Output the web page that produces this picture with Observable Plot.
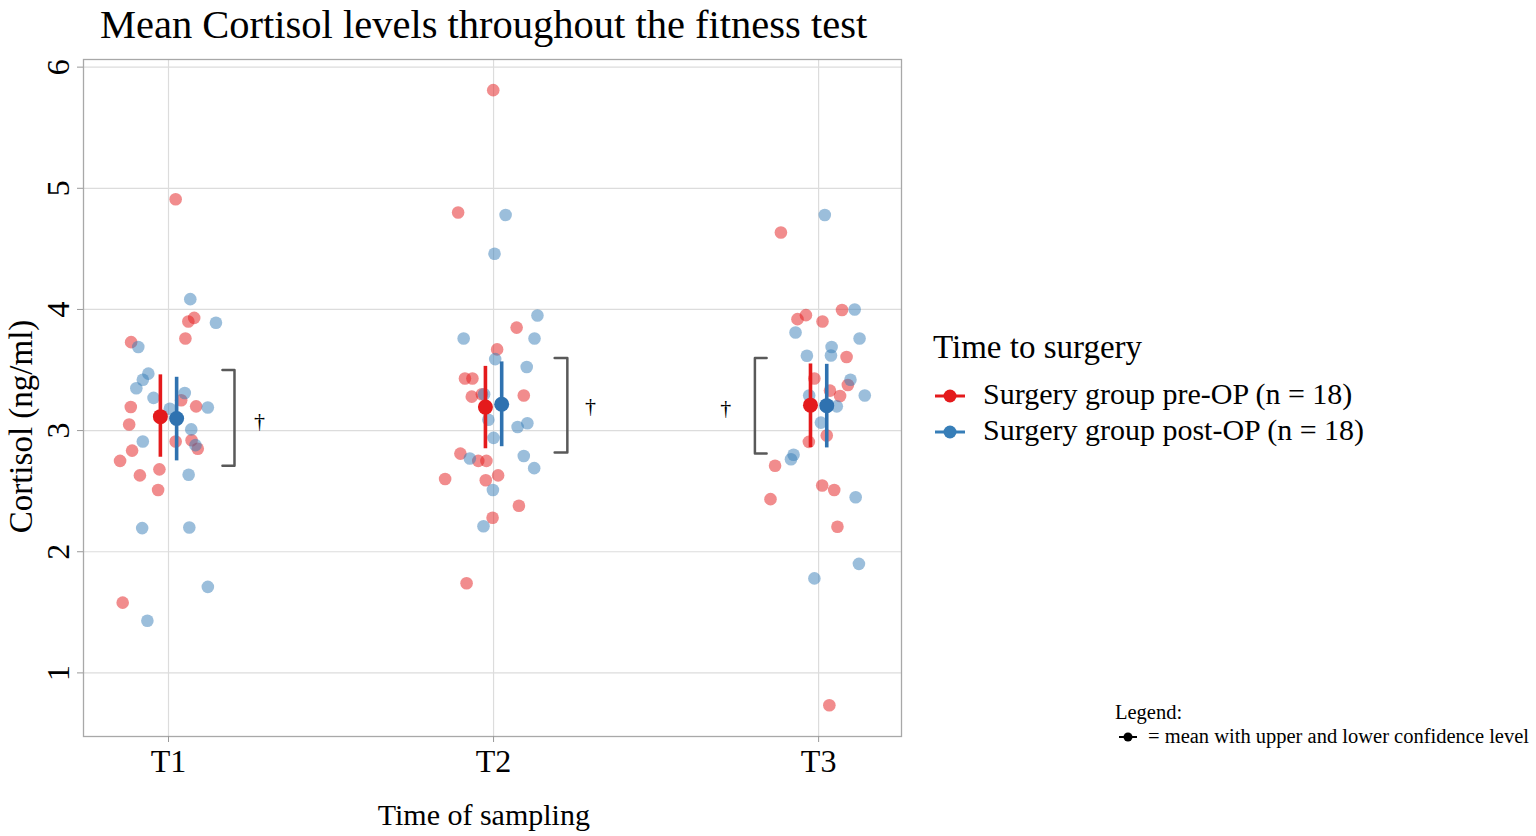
<!DOCTYPE html>
<html><head><meta charset="utf-8">
<script src="https://cdn.jsdelivr.net/npm/d3@7"></script>
<script src="https://cdn.jsdelivr.net/npm/@observablehq/plot@0.6"></script>
<style>
html,body{margin:0;padding:0;background:#fff;overflow:hidden}
#page{position:relative;width:1536px;height:836px;font-family:"Liberation Serif","Times New Roman",serif;color:#000;overflow:hidden}
.abs{position:absolute;white-space:nowrap}
#chart{position:absolute;left:0;top:0}
</style></head><body><div id="page"><div id="chart"></div></div>
<script>
// ---------- data ----------
const times = ["T1", "T2", "T3"];
const groupLabels = ["Surgery group pre-OP (n = 18)", "Surgery group post-OP (n = 18)"];
const yTicks = [1, 2, 3, 4, 5, 6];

// individual cortisol values (ng/ml) and their horizontal jitter (fraction of category spacing)
const preT1 = [4.91, 3.93, 3.90, 3.76, 3.73, 3.25, 3.195, 3.20, 3.05, 2.91, 2.92, 2.85, 2.835, 2.75, 2.68, 2.63, 2.51, 1.58];
const preT1Jit = [0.022, 0.079, 0.061, 0.052, -0.115, 0.039, -0.116, 0.085, -0.121, 0.022, 0.071, 0.090, -0.112, -0.149, -0.028, -0.088, -0.032, -0.141];
const postT1 = [4.085, 3.89, 3.69, 3.47, 3.42, 3.35, 3.31, 3.27, 3.19, 3.18, 3.01, 2.91, 2.88, 2.635, 2.195, 2.20, 1.71, 1.43];
const postT1Jit = [0.067, 0.146, -0.093, -0.062, -0.079, -0.099, 0.050, -0.046, 0.121, 0.004, 0.070, -0.079, 0.083, 0.062, -0.081, 0.064, 0.121, -0.065];

const preT2 = [5.81, 4.80, 3.85, 3.67, 3.43, 3.43, 3.30, 3.28, 3.29, 2.81, 2.75, 2.75, 2.60, 2.63, 2.59, 2.38, 2.28, 1.74];
const preT2Jit = [-0.001, -0.109, 0.071, 0.011, -0.088, -0.065, -0.036, -0.067, 0.093, -0.102, -0.047, -0.022, -0.149, 0.014, -0.024, 0.078, -0.003, -0.083];
const postT2 = [4.78, 4.46, 3.95, 3.76, 3.76, 3.59, 3.525, 3.30, 3.09, 3.06, 3.03, 2.94, 2.77, 2.79, 2.69, 2.51, 2.21];
const postT2Jit = [0.037, 0.003, 0.135, -0.092, 0.126, 0.005, 0.102, -0.029, -0.016, 0.104, 0.074, 0.000, -0.073, 0.093, 0.125, -0.002, -0.031];

const preT3 = [4.635, 3.995, 3.953, 3.92, 3.90, 3.607, 3.43, 3.376, 3.33, 3.286, 2.907, 2.96, 2.71, 2.547, 2.51, 2.434, 2.206, 0.733];
const preT3Jit = [-0.116, 0.072, -0.039, -0.065, 0.012, 0.086, -0.013, 0.090, 0.035, 0.066, -0.030, 0.025, -0.134, 0.011, 0.048, -0.148, 0.058, 0.033];
const postT3 = [4.78, 4.00, 3.81, 3.76, 3.69, 3.62, 3.618, 3.42, 3.29, 3.29, 3.20, 3.066, 2.80, 2.764, 2.45, 1.90, 1.78];
const postT3Jit = [0.019, 0.111, -0.071, 0.126, 0.040, 0.038, -0.036, 0.098, 0.142, -0.029, 0.056, 0.007, -0.077, -0.085, 0.114, 0.124, -0.013];

// means with lower / upper confidence levels
const preMean = [3.115, 3.194, 3.21];
const preLower = [2.78, 2.85, 2.86];
const preUpper = [3.46, 3.53, 3.55];
const postMean = [3.10, 3.217, 3.206];
const postLower = [2.75, 2.867, 2.857];
const postUpper = [3.44, 3.567, 3.547];

// significance brackets (†)
const bracketLow = [2.71, 2.82, 2.81];
const bracketHigh = [3.50, 3.60, 3.60];
const bracketInner = [0.166, 0.188, -0.160];
const bracketOuter = [0.203, 0.227, -0.196];
const daggerOffset = [0.28, 0.298, -0.286];
const daggerY = [3.08, 3.20, 3.19];

// ---------- build tables ----------
const pre = [preT1, preT2, preT3], preJ = [preT1Jit, preT2Jit, preT3Jit];
const post = [postT1, postT2, postT3], postJ = [postT1Jit, postT2Jit, postT3Jit];
const prePts = [], postPts = [];
pre.forEach((vals, t) => vals.forEach((v, i) => prePts.push({x: t + 1 + preJ[t][i], y: v})));
post.forEach((vals, t) => vals.forEach((v, i) => postPts.push({x: t + 1 + postJ[t][i], y: v})));
const dodge = 0.025;
const preStats = times.map((t, i) => ({x: i + 1 - dodge, m: preMean[i], lo: preLower[i], hi: preUpper[i]}));
const postStats = times.map((t, i) => ({x: i + 1 + dodge, m: postMean[i], lo: postLower[i], hi: postUpper[i]}));
const brackets = [];
times.forEach((t, i) => {
  const c = i + 1;
  brackets.push({z: i, x: c + bracketInner[i], y: bracketHigh[i]});
  brackets.push({z: i, x: c + bracketOuter[i], y: bracketHigh[i]});
  brackets.push({z: i, x: c + bracketOuter[i], y: bracketLow[i]});
  brackets.push({z: i, x: c + bracketInner[i], y: bracketLow[i]});
});
const daggers = times.map((t, i) => ({x: i + 1 + daggerOffset[i], y: daggerY[i]}));

const RED = "#e41a1c", BLUE = "#377eb8", BLUE_MEAN = "#2f72b0";

const chart = Plot.plot({
  width: 910, height: 836,
  marginLeft: 83, marginRight: 9, marginTop: 59, marginBottom: 100,
  x: {type: "linear", domain: [0.7385, 3.255]},
  y: {domain: [0.475, 6.063]},
  style: {fontFamily: "Liberation Serif, Times New Roman, serif", background: "white", color: "black", overflow: "visible"},
  marks: [
    Plot.gridY(yTicks, {stroke: "#dcdcdc", strokeOpacity: 1, strokeWidth: 1.2}),
    Plot.gridX([1, 2, 3], {stroke: "#dcdcdc", strokeOpacity: 1, strokeWidth: 1.2}),
    Plot.frame({stroke: "#a8a8a8", strokeWidth: 1.3}),
    Plot.axisY(yTicks, {tickSize: 6, tickPadding: 8.7, tickRotate: -90, fontSize: 32, tickFormat: d => String(d), stroke: "#9a9a9a", fill: "black", label: null}),
    Plot.axisX([1, 2, 3], {tickSize: 6, tickPadding: 6.5, fontSize: 32, tickFormat: d => times[d - 1], stroke: "#9a9a9a", fill: "black", label: null}),
    Plot.dot(prePts, {x: "x", y: "y", r: 6.3, fill: RED, fillOpacity: 0.5}),
    Plot.dot(postPts, {x: "x", y: "y", r: 6.3, fill: BLUE, fillOpacity: 0.5}),
    Plot.ruleX(preStats, {x: "x", y1: "lo", y2: "hi", stroke: RED, strokeWidth: 3.6}),
    Plot.ruleX(postStats, {x: "x", y1: "lo", y2: "hi", stroke: BLUE_MEAN, strokeWidth: 3.6}),
    Plot.dot(preStats, {x: "x", y: "m", r: 7.5, fill: RED}),
    Plot.dot(postStats, {x: "x", y: "m", r: 7.5, fill: BLUE_MEAN}),
    Plot.line(brackets, {x: "x", y: "y", z: "z", stroke: "#595959", strokeWidth: 2.5, curve: "linear"}),
    Plot.text(daggers, {x: "x", y: "y", text: () => "†", fontSize: 22, fill: "black"})
  ]
});
document.getElementById("chart").appendChild(chart);

// ---------- HTML texts ----------
const page = document.getElementById("page");
function addText(txt, left, top, size, extra) {
  const d = document.createElement("div");
  d.className = "abs";
  d.textContent = txt;
  d.style.left = left + "px";
  d.style.top = top + "px";
  d.style.fontSize = size + "px";
  d.style.lineHeight = size + "px";
  if (extra) Object.assign(d.style, extra);
  page.appendChild(d);
  return d;
}
addText("Mean Cortisol levels throughout the fitness test", 100, 4.5, 40.5);
addText("Time of sampling", 377.7, 799.9, 30);
addText("Cortisol (ng/ml)", -179.4, 409.5, 33, {width: "400px", textAlign: "center", transform: "rotate(-90deg)"});

// legend
addText("Time to surgery", 933, 331.4, 33);
const keyColors = [RED, BLUE];
const keyY = [396, 432];
const textTop = [378.9, 414.9];
groupLabels.forEach((g, i) => {
  const s = document.createElementNS("http://www.w3.org/2000/svg", "svg");
  s.setAttribute("width", 40); s.setAttribute("height", 20);
  s.style.position = "absolute"; s.style.left = "930px"; s.style.top = (keyY[i] - 10) + "px";
  s.innerHTML = `<line x1="5" x2="35" y1="10" y2="10" stroke="${keyColors[i]}" stroke-width="3"/><circle cx="20" cy="10" r="6.5" fill="${keyColors[i]}"/>`;
  page.appendChild(s);
  addText(g, 983, textTop[i], 30);
});

// bottom-right note
addText("Legend:", 1115, 701.5, 20.5);
const ns = document.createElementNS("http://www.w3.org/2000/svg", "svg");
ns.setAttribute("width", 24); ns.setAttribute("height", 14);
ns.style.position = "absolute"; ns.style.left = "1116px"; ns.style.top = "730px";
ns.innerHTML = `<line x1="3" x2="21" y1="7" y2="7" stroke="black" stroke-width="2"/><circle cx="12" cy="7" r="4.5" fill="black"/>`;
page.appendChild(ns);
addText("= mean with upper and lower confidence level", 1148, 726, 20.5);
</script></body></html>
